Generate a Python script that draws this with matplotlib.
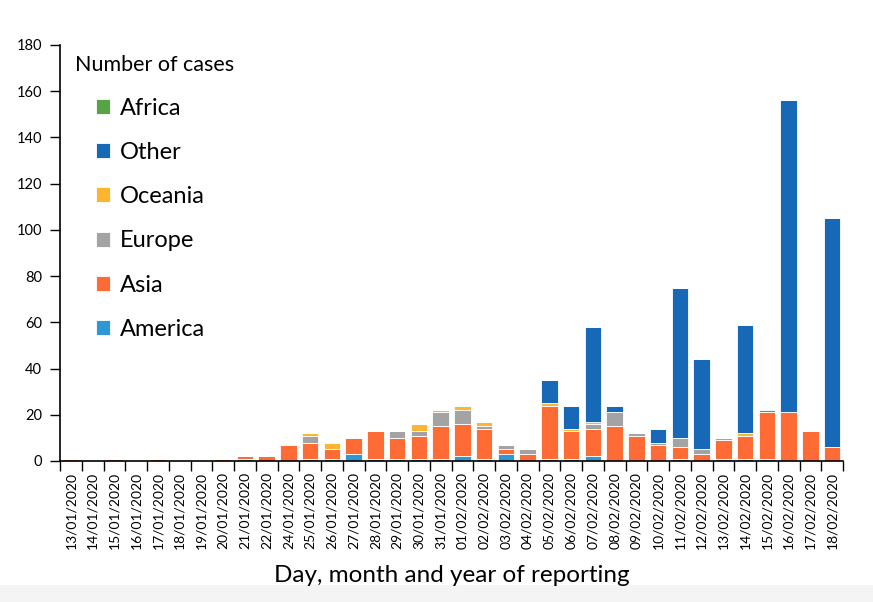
import matplotlib
matplotlib.use('Agg')
import matplotlib.pyplot as plt
import numpy as np
from matplotlib.patches import Rectangle

plt.rcParams['font.family'] = ['Lato', 'DejaVu Sans']

dates = ['13/01/2020', '14/01/2020', '15/01/2020', '16/01/2020', '17/01/2020',
         '18/01/2020', '19/01/2020', '20/01/2020', '21/01/2020', '22/01/2020',
         '24/01/2020', '25/01/2020', '26/01/2020', '27/01/2020', '28/01/2020',
         '29/01/2020', '30/01/2020', '31/01/2020', '01/02/2020', '02/02/2020',
         '03/02/2020', '04/02/2020', '05/02/2020', '06/02/2020', '07/02/2020',
         '08/02/2020', '09/02/2020', '10/02/2020', '11/02/2020', '12/02/2020',
         '13/02/2020', '14/02/2020', '15/02/2020', '16/02/2020', '17/02/2020',
         '18/02/2020']

america = [0, 0, 0, 0, 0, 0, 0, 0, 1, 0,
           0, 1, 1, 3, 1, 1, 1, 1, 2, 1,
           3, 0, 1, 1, 2, 0, 0, 0, 1, 0,
           1, 1, 1, 0, 0, 0]
asia = [1, 0, 1, 0, 1, 0, 0, 1, 1, 2,
        7, 7, 4, 7, 12, 9, 10, 14, 14, 13,
        2, 3, 23, 12, 12, 15, 11, 7, 5, 3,
        8, 10, 20, 21, 13, 6]
europe = [0, 0, 0, 0, 0, 0, 0, 0, 0, 0,
          0, 3, 0, 0, 0, 3, 2, 6, 6, 1,
          2, 2, 0, 0, 2, 6, 1, 1, 4, 2,
          1, 0, 0, 0, 0, 0]
oceania = [0, 0, 0, 0, 0, 0, 0, 0, 0, 0,
           0, 1, 3, 0, 0, 0, 3, 1, 2, 2,
           0, 0, 1, 1, 1, 0, 0, 0, 0, 0,
           0, 1, 0, 0, 0, 0]
other = [0, 0, 0, 0, 0, 0, 0, 0, 0, 0,
         0, 0, 0, 0, 0, 0, 0, 0, 0, 0,
         0, 0, 10, 10, 41, 3, 0, 6, 65, 39,
         0, 47, 0, 135, 0, 99]
africa = [0, 0, 0, 0, 0, 0, 0, 0, 0, 0,
          0, 0, 0, 0, 0, 0, 0, 0, 0, 0,
          0, 0, 0, 0, 0, 0, 0, 0, 0, 0,
          0, 0, 1, 0, 0, 0]

# stacking order bottom -> top
series = [
    ('America', america, '#2F97D3'),
    ('Asia', asia, '#FF6B35'),
    ('Europe', europe, '#A3A3A3'),
    ('Oceania', oceania, '#FDB52F'),
    ('Other', other, '#1769B8'),
    ('Africa', africa, '#56A446'),
]

W, H = 873, 602
fig = plt.figure(figsize=(W / 100, H / 100), dpi=100)
fig.patches.append(Rectangle((0, 0), 1, 0.028, transform=fig.transFigure,
                             facecolor='#F4F4F4', edgecolor='none', zorder=-1))
ax = fig.add_axes([60 / W, 1 - 461 / H, 783 / W, 416 / H])

x = np.arange(len(dates))
bottom = np.zeros(len(dates))
handles = {}
for name, vals, color in series:
    vals = np.array(vals, dtype=float)
    bars = ax.bar(x, vals, bottom=bottom, width=0.76, color=color,
                  edgecolor='white', linewidth=0.6, label=name)
    handles[name] = bars
    bottom += vals

ax.set_xlim(-0.5, len(dates) - 0.5)
ax.set_ylim(0, 180)
ax.set_yticks(np.arange(0, 181, 20))
ax.tick_params(axis='y', labelsize=10.5, length=7, width=1, pad=6)
ax.set_xticks(x)
ax.set_xticklabels(dates, rotation=90, fontsize=10)
ax.tick_params(axis='x', length=0, pad=8)
ax.set_xticks(np.arange(-0.5, len(dates)), minor=True)
ax.tick_params(axis='x', which='minor', length=7, width=1)

for s in ['top', 'right']:
    ax.spines[s].set_visible(False)
for s in ['left', 'bottom']:
    ax.spines[s].set_linewidth(1.2)

ax.set_xlabel('Day, month and year of reporting', fontsize=17.5, labelpad=11)

fig.text(75 / W, 1 - 65 / H, 'Number of cases', fontsize=15.5,
         ha='left', va='center')

order = ['Africa', 'Other', 'Oceania', 'Europe', 'Asia', 'America']
leg = fig.legend([handles[n] for n in order], order, loc='upper left',
                 bbox_to_anchor=(96 / W, 1 - 98 / H), frameon=False, fontsize=17,
                 handlelength=0.6, handleheight=0.6, labelspacing=0.98,
                 handletextpad=0.4, borderaxespad=0, borderpad=0)

fig.savefig('out.png', dpi=100)
